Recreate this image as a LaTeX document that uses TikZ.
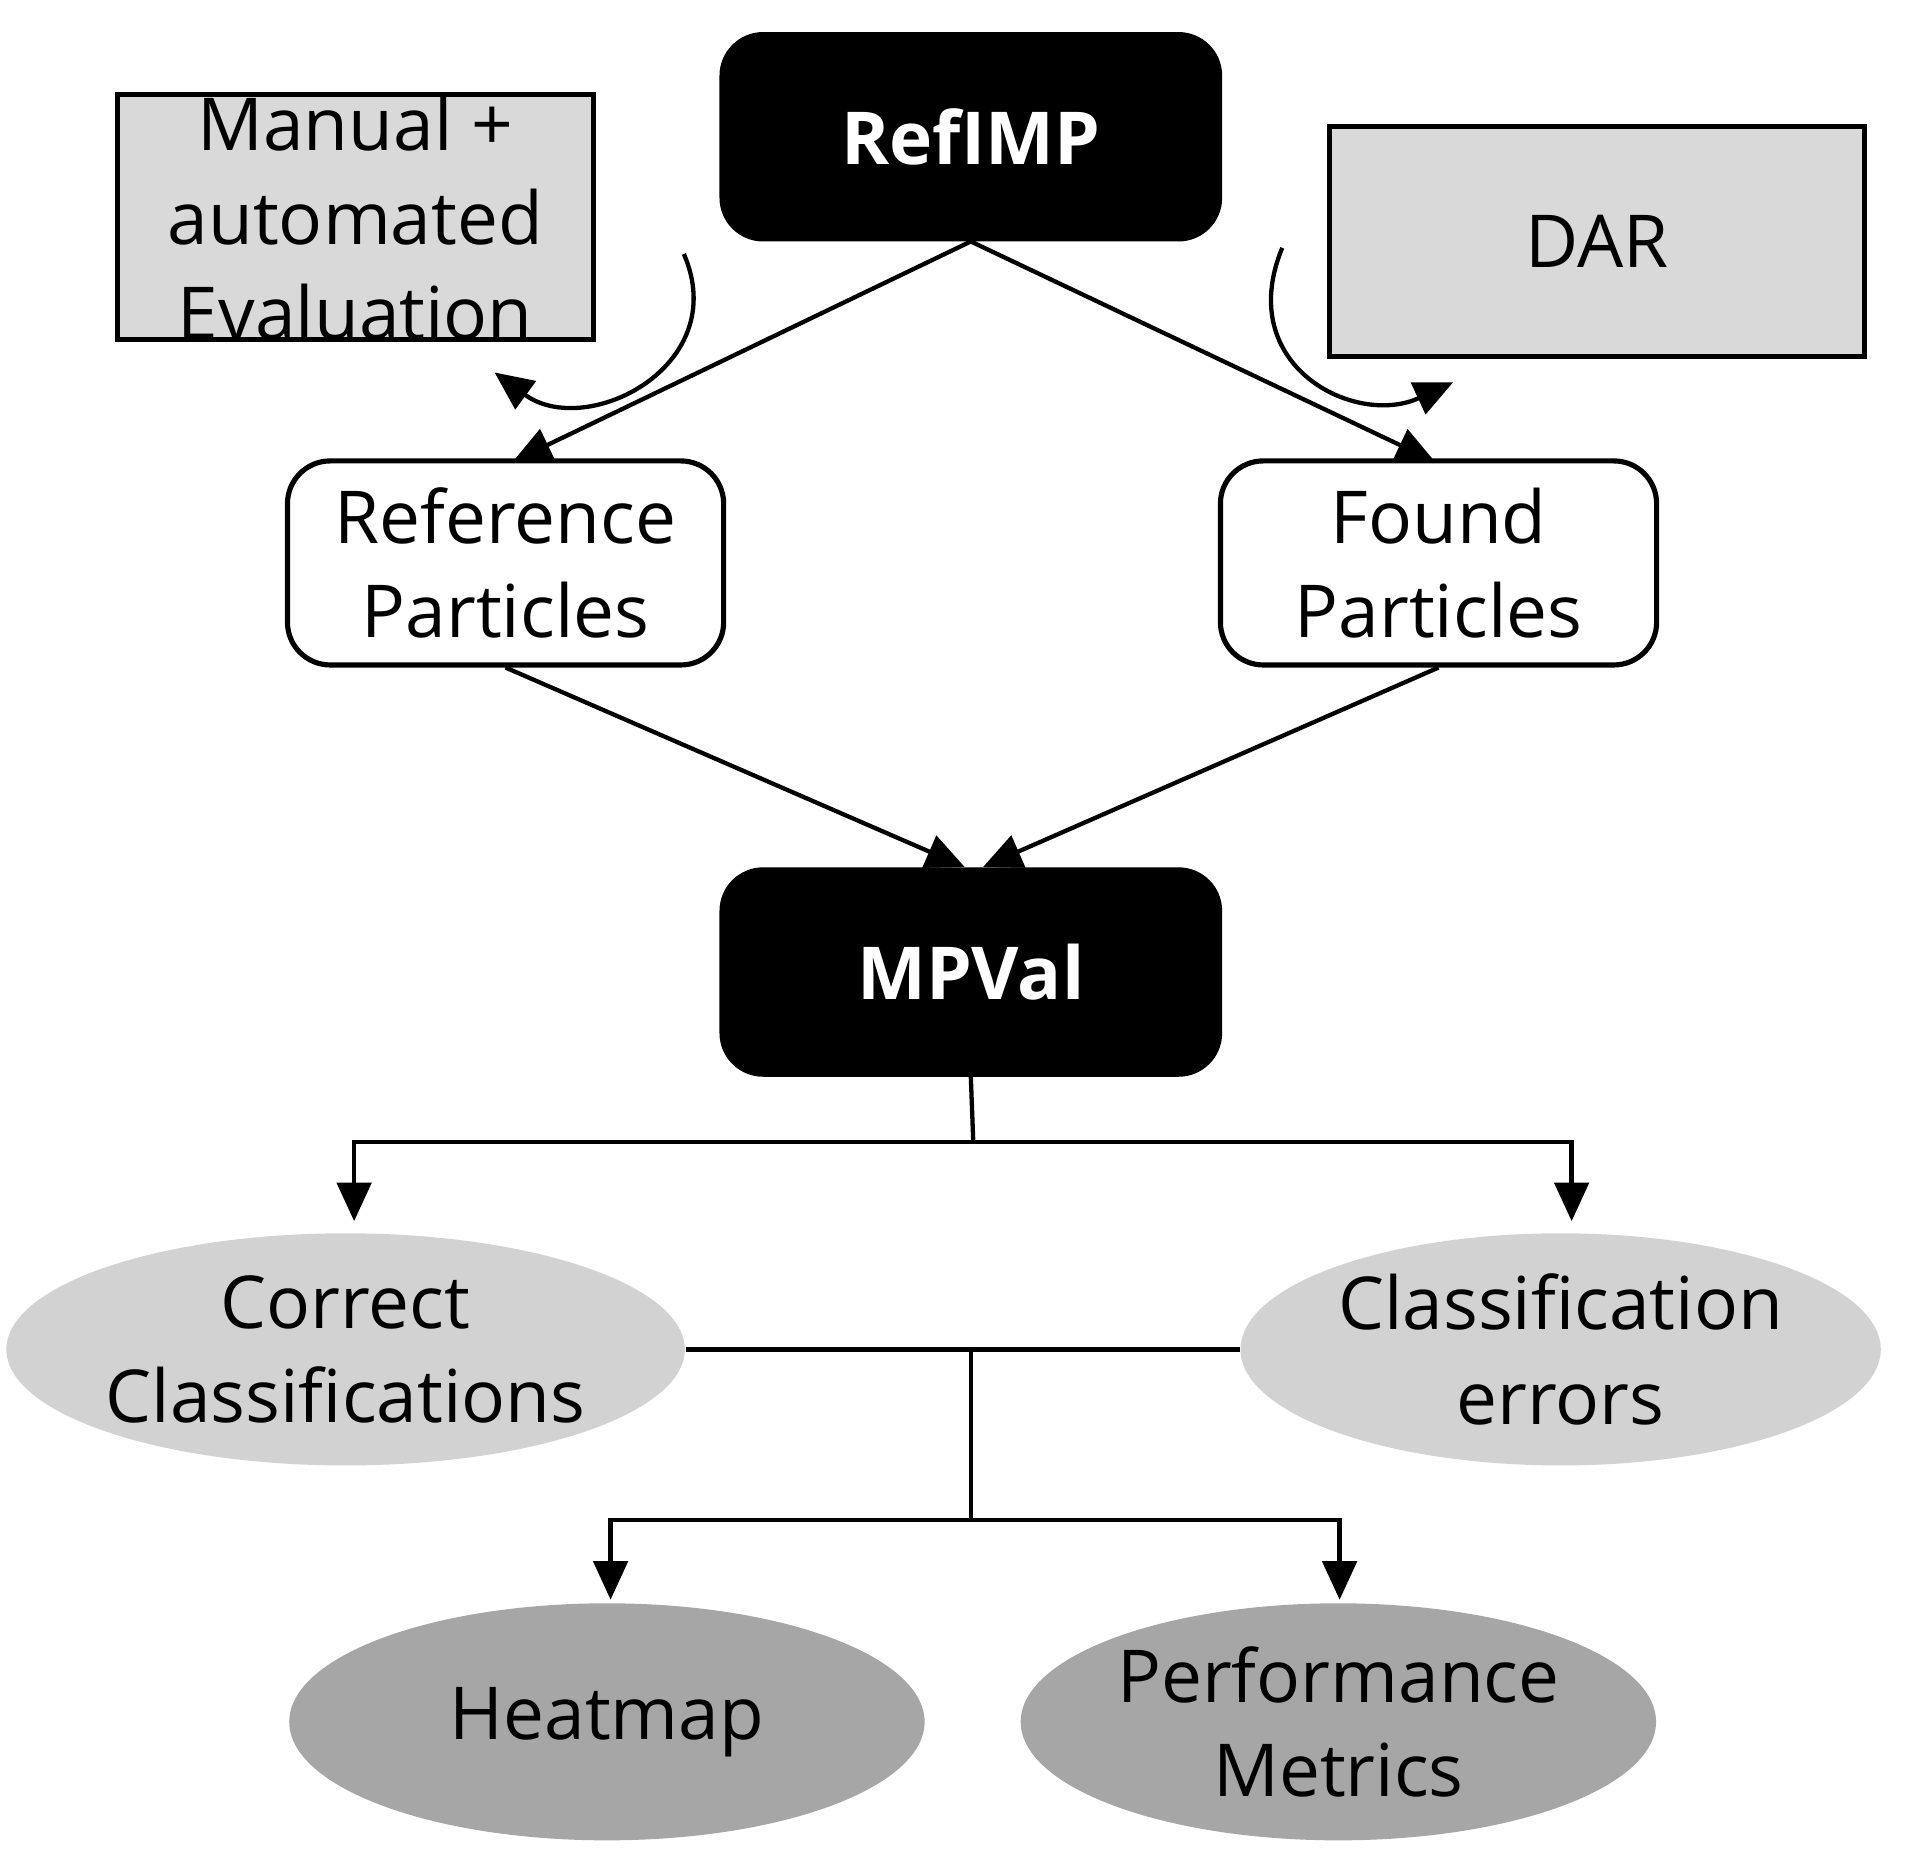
\documentclass[tikz,border=0pt]{standalone}
\usepackage{fontspec}
\setmainfont{Open Sans}
\usetikzlibrary{shapes.geometric,arrows.meta}
\begin{document}
\begin{tikzpicture}[x=0.01cm,y=-0.01cm,
  txt/.style={font=\fontsize{17}{22}\selectfont,align=center},
  blk/.style={txt,draw=black,fill=black,text=white,font=\fontsize{17}{22}\selectfont\bfseries,rounded corners=0.35cm,minimum width=4.1cm,minimum height=1.7cm},
  gbox/.style={txt,draw=black,line width=1.2pt,fill=gray!30,inner sep=0pt},
  wbox/.style={txt,draw=black,line width=1.2pt,fill=white,rounded corners=0.35cm,minimum width=3.57cm,minimum height=1.67cm},
  ell/.style={txt,ellipse,draw=none,inner sep=0pt},
  arr/.style={-{Triangle[length=9pt,width=8pt]},line width=1pt},
  ln/.style={line width=1pt}]
\useasboundingbox (0,0) rectangle (1560,1519);
\node[blk] (ref) at (795,112) {RefIMP};
\node[gbox,minimum width=3.9cm,minimum height=1.89cm] (man) at (291,178) {Manual +\\automated\\Evaluation};
\node[gbox,minimum width=4.38cm,minimum height=1.88cm] (dar) at (1308,198) {DAR};
\node[wbox] (rp) at (414,461) {Reference\\Particles};
\node[wbox] (fp) at (1178,461) {Found\\Particles};
\node[blk] (mp) at (795,796) {MPVal};
\node[ell,fill=gray!35,minimum width=5.2cm,minimum height=1.9cm] (cc) at (283,1105) {Correct\\Classifications};
\node[ell,fill=gray!35,minimum width=5.24cm,minimum height=1.9cm] (ce) at (1278,1105) {Classification\\errors};
\node[ell,fill=gray!70,minimum width=5.2cm,minimum height=1.94cm] (hm) at (497,1410) {Heatmap};
\node[ell,fill=gray!70,minimum width=5.2cm,minimum height=1.94cm] (pm) at (1096,1410) {Performance\\Metrics};
\coordinate (rtop) at (420,378);
\coordinate (ftop) at (1175,378);
\draw[arr] (ref.south) -- (rtop);
\draw[arr] (ref.south) -- (ftop);
\coordinate (m1) at (790,710);
\coordinate (m2) at (805,710);
\draw[arr] (rp.south) -- (m1);
\draw[arr] (fp.south) -- (m2);
\coordinate (j1) at (797,935);
\coordinate (c1) at (290,1000);
\coordinate (c2) at (1287,1000);
\draw[ln] (mp.south) -- (j1);
\draw[arr] (j1) -| (c1);
\draw[arr] (j1) -| (c2);
\draw[ln] (cc.east) -- (ce.west);
\coordinate (j2) at (795,1103);
\coordinate (j3) at (795,1245);
\coordinate (h1) at (500,1310);
\coordinate (h2) at (1097,1310);
\draw[ln] (j2) -- (j3);
\draw[arr] (j3) -| (h1);
\draw[arr] (j3) -| (h2);
\coordinate (la) at (560,208);
\coordinate (lb) at (405,305);
\draw[arr] (la) .. controls (600,300) and (480,360) .. (lb);
\coordinate (ra) at (1050,203);
\coordinate (rb) at (1190,313);
\draw[arr] (ra) .. controls (1010,300) and (1110,350) .. (rb);
\end{tikzpicture}
\end{document}
